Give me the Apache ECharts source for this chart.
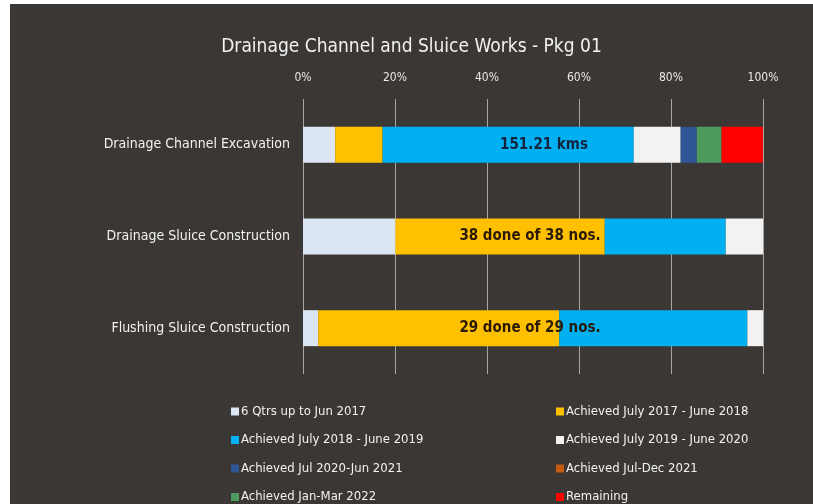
<!DOCTYPE html>
<html>
<head>
<meta charset="utf-8">
<script src="https://cdn.jsdelivr.net/npm/echarts@6/dist/echarts.min.js"></script>
<style>
  body { margin: 0; background: #ffffff; }
  #chart { position: absolute; left: 10px; top: 4px; width: 803px; height: 500px; }
</style>
</head>
<body>
<div id="chart"></div>
<script>
var FONT = '"Liberation Sans Narrow", "DejaVu Sans Condensed", sans-serif';

var categories = ['Drainage Channel Excavation', 'Drainage Sluice Construction', 'Flushing Sluice Construction'];
var seriesNames = [
  '6 Qtrs up to Jun 2017',
  'Achieved July 2017 - June 2018',
  'Achieved July 2018 - June 2019',
  'Achieved July 2019 - June 2020',
  'Achieved Jul 2020-Jun 2021',
  'Achieved Jul-Dec 2021',
  'Achieved Jan-Mar 2022',
  'Remaining'
];
var colors = ['#dce6f2', '#ffc000', '#00b0f0', '#f2f2f2', '#2f5597', '#c55a11', '#4e9a5e', '#ff0000'];

// percent of each work item, per period
var qtrs6     = [7.0, 20.1, 3.3];
var fy1718    = [10.3, 45.5, 52.4];
var fy1819    = [54.6, 26.3, 40.9];
var fy1920    = [10.2, 8.1, 3.4];
var fy2021    = [3.5, 0, 0];
var julDec21  = [0, 0, 0];
var janMar22  = [5.4, 0, 0];
var remaining = [9.0, 0, 0];
var values = [qtrs6, fy1718, fy1819, fy1920, fy2021, julDec21, janMar22, remaining];

var barLabels = ['151.21 kms', '38 done of 38 nos.', '29 done of 29 nos.'];
var barLabelColors = ['#14243f', '#2a1a08', '#2a1a08'];
var fullBar = [100, 100, 100];

var chart = echarts.init(document.getElementById('chart'));

var series = seriesNames.map(function (name, i) {
  return {
    name: name,
    type: 'bar',
    stack: 'total',
    barWidth: 36,
    itemStyle: { color: colors[i] },
    data: values[i]
  };
});

// overlay that carries the text labels across the whole bar
series.push({
  name: 'labels',
  type: 'bar',
  barWidth: 36,
  barGap: '-100%',
  silent: true,
  itemStyle: { color: 'rgba(0,0,0,0)' },
  label: {
    show: true,
    position: 'inside',
    fontFamily: FONT,
    fontSize: 15,
    fontWeight: 'bold',
    formatter: function (p) { return barLabels[p.dataIndex]; }
  },
  data: fullBar.map(function (v, i) {
    return { value: v, label: { color: barLabelColors[i], offset: [i === 0 ? 11 : -3, 0] } };
  }),
  z: 5
});

var legendBase = {
  orient: 'vertical',
  top: 394,
  height: 106,
  itemWidth: 8,
  itemHeight: 8,
  itemGap: 11.5,
  icon: 'rect',
  textStyle: { color: '#f2f2f2', fontFamily: FONT, fontSize: 13, lineHeight: 17, padding: [0, 0, 0, -3] }
};

chart.setOption({
  backgroundColor: '#3a3734',
  animation: false,
  title: {
    text: 'Drainage Channel and Sluice Works - Pkg 01',
    left: 'center',
    top: 29,
    textStyle: { color: '#f2f2f2', fontFamily: FONT, fontSize: 19, fontWeight: 'normal' }
  },
  legend: [
    Object.assign({}, legendBase, {
      data: [seriesNames[0], seriesNames[2], seriesNames[4], seriesNames[6]],
      left: 216
    }),
    Object.assign({}, legendBase, {
      data: [seriesNames[1], seriesNames[3], seriesNames[5], seriesNames[7]],
      left: 541
    })
  ],
  grid: { left: 293, right: 50, top: 95, height: 275 },
  xAxis: {
    type: 'value',
    position: 'top',
    min: 0,
    max: 100,
    interval: 20,
    axisLine: { show: false },
    axisTick: { show: false },
    axisLabel: {
      color: '#e8e8e8',
      fontFamily: FONT,
      fontSize: 12,
      margin: 15,
      formatter: '{value}%'
    },
    splitLine: { lineStyle: { color: '#a6a6a6', width: 1 } }
  },
  yAxis: {
    type: 'category',
    inverse: true,
    data: categories,
    axisLine: { show: false },
    axisTick: { show: false },
    axisLabel: { color: '#f2f2f2', fontFamily: FONT, fontSize: 14, margin: 13 }
  },
  series: series
});
</script>
</body>
</html>
